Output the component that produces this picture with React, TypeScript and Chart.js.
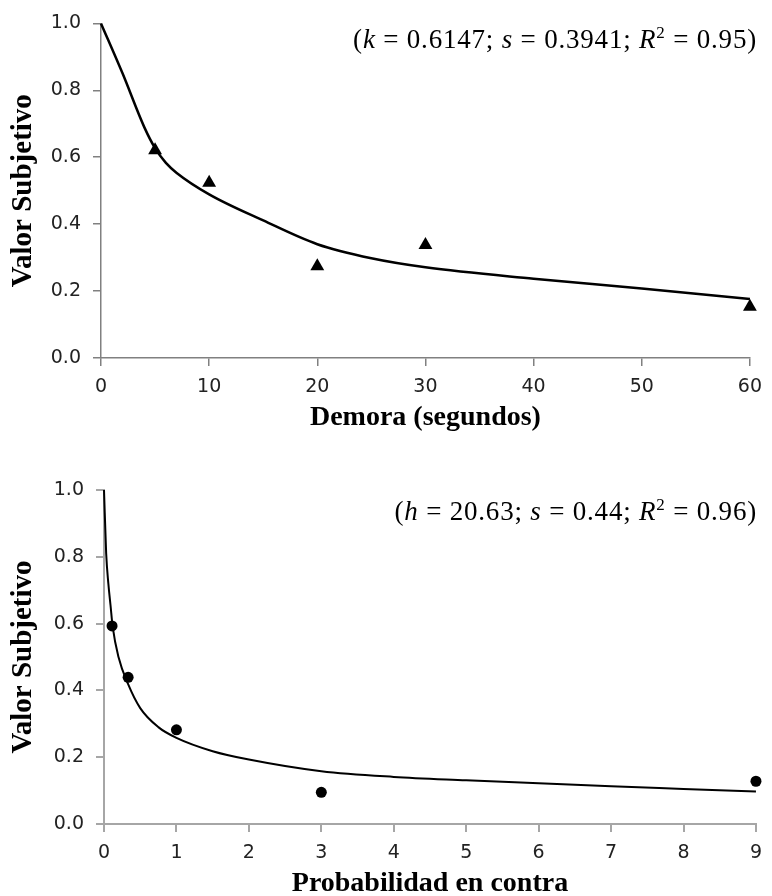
import React, { useEffect, useRef } from "react";
import { Chart, registerables } from "chart.js";

Chart.register(...registerables);

// ---------- Data: delay discounting (top) ----------
const delayX = [5, 10, 20, 30, 60];
const delayY = [0.621, 0.524, 0.274, 0.338, 0.153];
const delayCurveX = [0, 2, 4, 5, 6, 7, 10, 15, 20, 25, 30, 40, 50, 60];
const delayCurveY = [1.0, 0.85, 0.69, 0.627, 0.583, 0.553, 0.489, 0.411, 0.34, 0.298, 0.271, 0.237, 0.208, 0.176];
const delayXTicks = [0, 10, 20, 30, 40, 50, 60];

// ---------- Data: probability discounting (bottom) ----------
const probX = [0.111, 0.333, 1, 3, 9];
const probY = [0.593, 0.439, 0.282, 0.095, 0.128];
const probCurveX = [0, 0.03, 0.06, 0.09, 0.12, 0.2, 0.33, 0.5, 0.75, 1, 1.5, 2, 3, 4, 5, 6, 7, 8, 9];
const probCurveY = [1.0, 0.81, 0.72, 0.655, 0.59, 0.5, 0.42, 0.347, 0.29, 0.258, 0.218, 0.193, 0.158, 0.141, 0.131, 0.122, 0.113, 0.105, 0.097];
const probXTicks = [0, 1, 2, 3, 4, 5, 6, 7, 8, 9];

const yTicks = [0, 0.2, 0.4, 0.6, 0.8, 1.0];

const yTitle = "Valor Subjetivo";
const delayTitle = "Demora (segundos)";
const probTitle = "Probabilidad en contra";

type Seg = { t: string; italic?: boolean; sup?: boolean };
const delayNote: Seg[] = [
  { t: "(" },
  { t: "k", italic: true },
  { t: " = 0.6147; " },
  { t: "s", italic: true },
  { t: " = 0.3941; " },
  { t: "R", italic: true },
  { t: "2", sup: true },
  { t: " = 0.95)" },
];
const probNote: Seg[] = [
  { t: "(" },
  { t: "h", italic: true },
  { t: " = 20.63; " },
  { t: "s", italic: true },
  { t: " = 0.44; " },
  { t: "R", italic: true },
  { t: "2", sup: true },
  { t: " = 0.96)" },
];

const SERIF = '"Liberation Serif", "Times New Roman", serif';
const SANS = '"DejaVu Sans", sans-serif';

function notePlugin(segs: Seg[], right: number, baseline: number, size: number) {
  return {
    id: "note",
    afterDraw(chart: any) {
      const ctx = chart.ctx as CanvasRenderingContext2D;
      ctx.save();
      ctx.fillStyle = "#000";
      ctx.textBaseline = "alphabetic";
      ctx.textAlign = "left";
      (ctx as any).letterSpacing = "0.8px";
      const font = (s: Seg) =>
        `${s.italic ? "italic " : ""}${s.sup ? Math.round(size * 0.62) : size}px ${SERIF}`;
      let total = 0;
      const widths = segs.map((s) => {
        ctx.font = font(s);
        const w = ctx.measureText(s.t).width;
        total += w;
        return w;
      });
      let x = right - total;
      segs.forEach((s, i) => {
        ctx.font = font(s);
        ctx.fillText(s.t, x, s.sup ? baseline - size * 0.36 : baseline);
        x += widths[i];
      });
      ctx.restore();
    },
  };
}

type Cfg = {
  px: number[];
  py: number[];
  cx: number[];
  cy: number[];
  xTicks: number[];
  xMax: number;
  xTitle: string;
  H: number;
  top: number;
  bottom: number;
  left: number;
  right: number;
  axisColor: string;
  axisWidth: number;
  lineWidth: number;
  pointStyle: string;
  pointRadius: number;
  xTitlePad: number;
  note: Seg[];
  noteBaseline: number;
};

function makeConfig(c: Cfg): any {
  return {
    type: "scatter",
    data: {
      datasets: [
        {
          data: c.px.map((x, i) => ({ x, y: c.py[i] })),
          pointStyle: c.pointStyle,
          pointRadius: c.pointRadius,
          pointBackgroundColor: "#000",
          pointBorderColor: "#000",
          pointBorderWidth: 0,
          showLine: false,
          clip: false,
          order: 0,
        },
        {
          data: c.cx.map((x, i) => ({ x, y: c.cy[i] })),
          showLine: true,
          borderColor: "#000",
          borderWidth: c.lineWidth,
          pointRadius: 0,
          cubicInterpolationMode: "monotone",
          fill: false,
          clip: false,
          order: 1,
        },
      ],
    },
    options: {
      responsive: false,
      animation: false,
      devicePixelRatio: 1,
      layout: { padding: { top: c.top, right: 772 - c.right, left: 0, bottom: 0 } },
      plugins: { legend: { display: false }, tooltip: { enabled: false } },
      scales: {
        x: {
          type: "linear",
          min: 0,
          max: c.xMax,
          afterFit: (s: any) => {
            s.height = c.H - c.bottom;
          },
          afterBuildTicks: (s: any) => {
            s.ticks = c.xTicks.map((v) => ({ value: v }));
          },
          ticks: {
            color: "#222",
            font: { family: SANS, size: 19 },
            padding: 10,
            maxRotation: 0,
            callback: (v: any) => String(v),
          },
          grid: {
            display: true,
            drawOnChartArea: false,
            drawTicks: true,
            tickLength: 8,
            color: c.axisColor,
            lineWidth: c.axisWidth,
          },
          border: { display: true, color: c.axisColor, width: c.axisWidth },
          title: {
            display: true,
            text: c.xTitle,
            color: "#000",
            font: { family: SERIF, size: 28, weight: "bold" },
            padding: { top: 0, bottom: c.xTitlePad },
          },
        },
        y: {
          type: "linear",
          min: 0,
          max: 1,
          afterFit: (s: any) => {
            s.width = c.left;
          },
          afterBuildTicks: (s: any) => {
            s.ticks = yTicks.map((v) => ({ value: v }));
          },
          ticks: {
            color: "#222",
            font: { family: SANS, size: 19 },
            padding: 12,
            callback: (v: any) => Number(v).toFixed(1),
          },
          grid: {
            display: true,
            drawOnChartArea: false,
            drawTicks: true,
            tickLength: 8,
            color: c.axisColor,
            lineWidth: c.axisWidth,
          },
          border: { display: true, color: c.axisColor, width: c.axisWidth },
          title: {
            display: true,
            text: yTitle,
            color: "#000",
            font: { family: SERIF, size: 29, weight: "bold" },
            padding: { top: 6, bottom: 0 },
          },
        },
      },
    },
    plugins: [notePlugin(c.note, 757, c.noteBaseline, 27)],
  };
}

export default function App() {
  const c1 = useRef<HTMLCanvasElement>(null);
  const c2 = useRef<HTMLCanvasElement>(null);

  useEffect(() => {
    const ch1 = new Chart(
      c1.current!,
      makeConfig({
        px: delayX,
        py: delayY,
        cx: delayCurveX,
        cy: delayCurveY,
        xTicks: delayXTicks,
        xMax: 60,
        xTitle: delayTitle,
        H: 448,
        top: 18,
        bottom: 358,
        left: 101,
        right: 759,
        axisColor: "#808080",
        axisWidth: 1.5,
        lineWidth: 2.5,
        pointStyle: "triangle",
        pointRadius: 8,
        xTitlePad: 13,
        note: delayNote,
        noteBaseline: 48,
      })
    );
    const ch2 = new Chart(
      c2.current!,
      makeConfig({
        px: probX,
        py: probY,
        cx: probCurveX,
        cy: probCurveY,
        xTicks: probXTicks,
        xMax: 9,
        xTitle: probTitle,
        H: 470,
        top: 42,
        bottom: 376,
        left: 104,
        right: 756,
        axisColor: "#a6a6a6",
        axisWidth: 2,
        lineWidth: 2,
        pointStyle: "circle",
        pointRadius: 5.5,
        xTitlePad: 17,
        note: probNote,
        noteBaseline: 72,
      })
    );
    return () => {
      ch1.destroy();
      ch2.destroy();
    };
  }, []);

  return (
    <div
      style={{
        position: "absolute",
        left: 0,
        top: 0,
        width: 772,
        height: 896,
        overflow: "hidden",
        background: "#fff",
      }}
    >
      <canvas ref={c1} width={772} height={448} style={{ position: "absolute", left: 0, top: 0 }} />
      <canvas ref={c2} width={772} height={470} style={{ position: "absolute", left: 0, top: 448 }} />
    </div>
  );
}
